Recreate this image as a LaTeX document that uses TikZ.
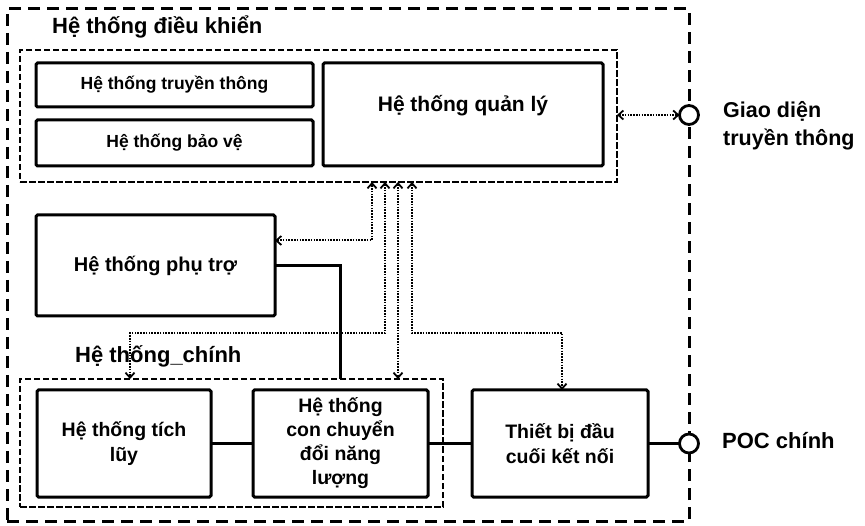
\documentclass[tikz,border=0pt]{standalone}
\usepackage{fontspec}
\setmainfont{Liberation Sans}
\usetikzlibrary{arrows.meta}

\begin{document}
\begin{tikzpicture}[
  x=1pt, y=-1pt,
  font=\bfseries,
  outerbox/.style={draw, line width=3pt, dash pattern=on 12pt off 7pt, outer sep=0pt, inner sep=0pt},
  groupbox/.style={draw, line width=2.6pt, dash pattern=on 6.5pt off 2.5pt, outer sep=0pt, inner sep=0pt},
  block/.style={draw, line width=3pt, rounded corners=1.5pt, fill=white, outer sep=0pt, align=center},
  link/.style={line width=3pt},
  sig/.style={line width=2pt, dash pattern=on 1.6pt off 1.2pt},
  duplex/.style={{Straight Barb[length=5pt,width=9pt,line width=1.8pt]}-{Straight Barb[length=5pt,width=9pt,line width=1.8pt]}},
  port/.style={circle, draw, line width=2.8pt, fill=white, minimum size=19pt, inner sep=0pt, outer sep=0pt},
  lbl/.style={inner sep=0pt, anchor=west, align=left}
]
\useasboundingbox (0,0) rectangle (865,526);

% system boundary and sub-system groups
\node[outerbox, minimum width=682pt, minimum height=512pt] (sys) at (348,265) {};
\node[groupbox, minimum width=597pt, minimum height=132pt] (ctl) at (318.5,116) {};
\node[groupbox, minimum width=423pt, minimum height=128pt] (main) at (231.5,443) {};

% group titles
\node[lbl, font=\bfseries\fontsize{22}{24}\selectfont] (ctltitle) at (52,27) {Hệ thống điều khiển};
\node[lbl, font=\bfseries\fontsize{22}{24}\selectfont] (maintitle) at (75,356) {Hệ thống\_chính};

% control system blocks
\node[block, minimum width=277pt, minimum height=44pt, font=\bfseries\fontsize{17.5}{20}\selectfont] (com) at (174.5,85) {Hệ thống truyền thông};
\node[block, minimum width=277pt, minimum height=46pt, font=\bfseries\fontsize{17.5}{20}\selectfont] (prot) at (174.5,143) {Hệ thống bảo vệ};
\node[block, minimum width=280pt, minimum height=103pt] (mgmt) at (463,114.5) {};
\node[font=\bfseries\fontsize{21}{24}\selectfont, inner sep=0pt] (mgmttext) at ([yshift=9pt]mgmt.center) {Hệ thống quản lý};

% auxiliary block
\node[block, minimum width=239pt, minimum height=101pt, font=\bfseries\fontsize{20}{24}\selectfont] (aux) at (155.5,265.5) {Hệ thống phụ trợ};

% main system blocks
\node[block, minimum width=174pt, minimum height=107pt, font=\bfseries\fontsize{19.5}{25}\selectfont] (acc) at (124,443.5) {Hệ thống tích\\lũy};
\node[block, minimum width=175pt, minimum height=107pt, font=\bfseries\fontsize{19.5}{24}\selectfont] (conv) at (340.5,443.5) {Hệ thống\\con chuyển\\đổi năng\\lượng};
\node[block, minimum width=176pt, minimum height=107pt, font=\bfseries\fontsize{19.5}{25}\selectfont] (term) at (560,443.5) {Thiết bị đầu\\cuối kết nối};

% ports on the boundary
\node[port] (gi) at (689,115) {};
\node[port] (poc) at (689,443.5) {};
\node[lbl, font=\bfseries\fontsize{21.5}{28}\selectfont] (gilabel) at (723,126) {Giao diện\\truyền thông};
\node[lbl, font=\bfseries\fontsize{22}{26}\selectfont] (poclabel) at (722,441) {POC chính};

% power path
\draw[link] (acc) -- (conv);
\draw[link] (conv) -- (term);
\draw[link] (term) -- (poc);
\draw[link] (aux.east) -| (main.north -| 340,0);

% signal connections from the control system
\coordinate (b1) at (372,182);
\coordinate (b2) at (385,182);
\coordinate (b3) at (398,182);
\coordinate (b4) at (412,182);
\draw[sig, duplex] ([yshift=25pt]aux.east) -| (b1);
\draw[sig, duplex] (b2) |- (130,333) -- (130,333 |- main.north);
\draw[sig, duplex] (b3) -- (b3 |- main.north);
\draw[sig, duplex] (b4) |- (562,333) -- (562,333 |- term.north);
\draw[sig, duplex] (ctl.east |- gi) -- (gi.west);
\end{tikzpicture}
\end{document}
